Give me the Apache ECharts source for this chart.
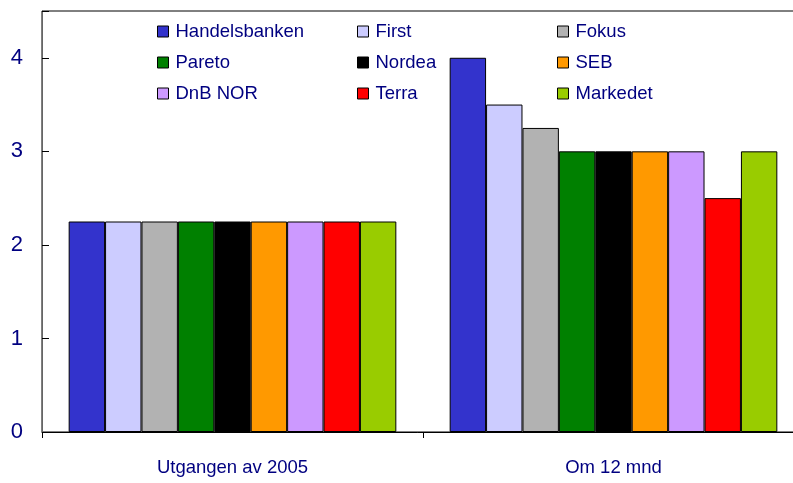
<!DOCTYPE html>
<html>
<head>
<meta charset="utf-8">
<script src="https://cdn.jsdelivr.net/npm/echarts@6/dist/echarts.min.js"></script>
<style>html,body{margin:0;padding:0;background:#fff}#c{width:793px;height:483px}</style>
</head>
<body>
<div id="c"></div>
<script>
const categories = ['Utgangen av 2005', 'Om 12 mnd'];
const seriesNames = ['Handelsbanken', 'First', 'Fokus', 'Pareto', 'Nordea', 'SEB', 'DnB NOR', 'Terra', 'Markedet'];
const handelsbanken = [2.25, 4.0];
const first = [2.25, 3.5];
const fokus = [2.25, 3.25];
const pareto = [2.25, 3.0];
const nordea = [2.25, 3.0];
const seb = [2.25, 3.0];
const dnbnor = [2.25, 3.0];
const terra = [2.25, 2.5];
const markedet = [2.25, 3.0];
const yTicks = [0, 1, 2, 3, 4];

const values = [handelsbanken, first, fokus, pareto, nordea, seb, dnbnor, terra, markedet];
const colors = ['#3333CC', '#CCCCFF', '#B2B2B2', '#008000', '#000000', '#FF9900', '#CC99FF', '#FF0000', '#99CC00'];
const navy = '#000080';

const series = seriesNames.map((n, i) => ({
  name: n,
  type: 'bar',
  data: values[i],
  barGap: '0%',
  barCategoryGap: '14%',
  itemStyle: { color: colors[i], borderColor: '#000', borderWidth: 1 }
}));

const legendCol = (names, left) => ({
  data: names,
  orient: 'vertical',
  left: left,
  top: 22,
  itemWidth: 11,
  itemHeight: 11,
  itemGap: 12,
  icon: 'rect',
  padding: 0,
  textStyle: { color: navy, fontSize: 18.5, fontFamily: 'Liberation Sans, Arial, sans-serif', padding: [0, 0, 0, 2] },
  itemStyle: { borderColor: '#000', borderWidth: 1 }
});

const chart = echarts.init(document.getElementById('c'), null, { renderer: 'canvas' });
chart.setOption({
  animation: false,
  backgroundColor: '#fff',
  color: colors,
  grid: { left: 42, top: 11, bottom: 51, width: 762, containLabel: false, outerBoundsMode: 'none', show: true, borderColor: '#000', borderWidth: 1 },
  legend: [
    legendCol(['Handelsbanken', 'Pareto', 'DnB NOR'], 157),
    legendCol(['First', 'Nordea', 'Terra'], 357),
    legendCol(['Fokus', 'SEB', 'Markedet'], 557)
  ],
  xAxis: {
    type: 'category',
    data: categories,
    axisLine: { lineStyle: { color: '#000', width: 1 } },
    axisTick: { show: true, length: 6, lineStyle: { color: '#000' } },
    axisLabel: { color: navy, fontSize: 18.5, margin: 26, fontFamily: 'Liberation Sans, Arial, sans-serif' }
  },
  yAxis: {
    type: 'value',
    min: 0,
    max: 4.5,
    interval: 1,
    splitLine: { show: false },
    axisLine: { show: true, lineStyle: { color: '#666', width: 1 } },
    axisTick: { show: true, inside: true, length: 7, lineStyle: { color: '#000' } },
    axisLabel: {
      color: navy, fontSize: 22, margin: 19, fontFamily: 'Liberation Sans, Arial, sans-serif',
      formatter: v => (yTicks.indexOf(v) >= 0 ? String(v) : '')
    }
  },
  series: series
});
</script>
</body>
</html>
